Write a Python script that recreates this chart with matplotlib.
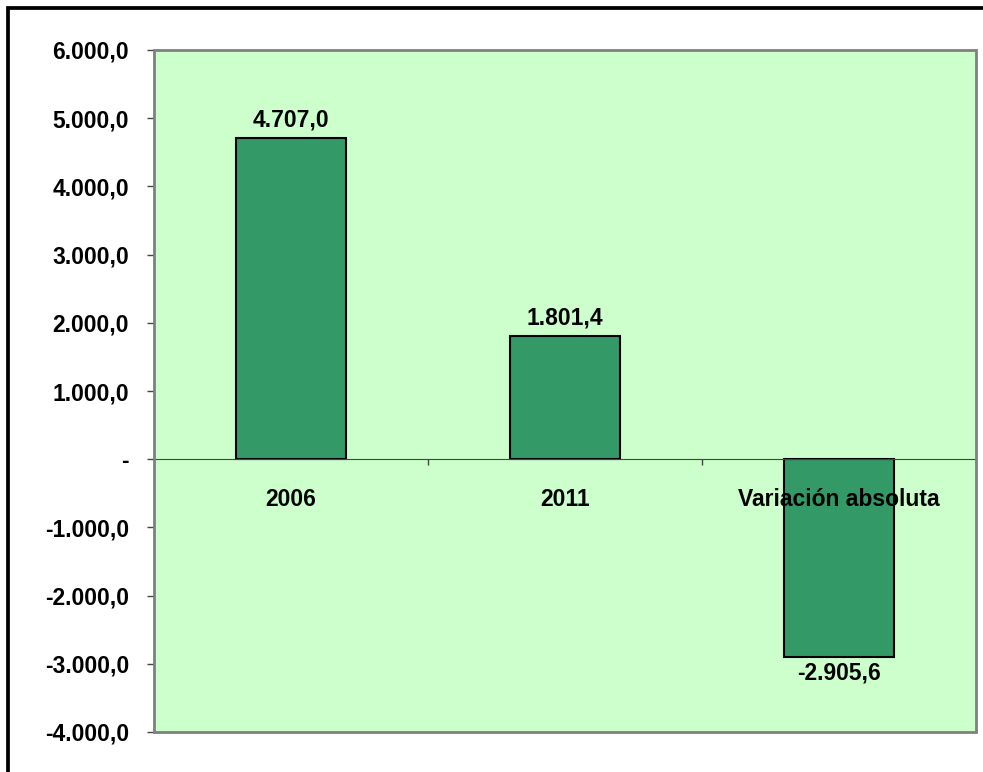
import matplotlib.pyplot as plt
from matplotlib.patches import Rectangle

# Datos
categorias = ["2006", "2011", "Variación absoluta"]
valores = [4707.0, 1801.4, -2905.6]
etiquetas_valores = ["4.707,0", "1.801,4", "-2.905,6"]
ticks_y = [-4000, -3000, -2000, -1000, 0, 1000, 2000, 3000, 4000, 5000, 6000]
etiquetas_y = ["-4.000,0", "-3.000,0", "-2.000,0", "-1.000,0", "-",
               "1.000,0", "2.000,0", "3.000,0", "4.000,0", "5.000,0", "6.000,0"]

plt.rcParams['font.family'] = ['Liberation Sans', 'DejaVu Sans']
plt.rcParams['font.weight'] = 'bold'
fs = 16.5

fig = plt.figure(figsize=(9.83, 7.72), dpi=100)
ax = fig.add_axes([154 / 983, 1 - 732 / 772, 822 / 983, 682 / 772])
ax.set_facecolor("#CCFFCC")

x = range(len(categorias))
ax.bar(x, valores, width=0.4, color="#339966", edgecolor="black", linewidth=1.5, zorder=3)

for i, v in enumerate(valores):
    if v >= 0:
        ax.annotate(etiquetas_valores[i], (i, v), xytext=(0, 5), textcoords="offset points",
                    ha="center", va="bottom", fontsize=fs, fontweight="bold", zorder=6)
    else:
        ax.annotate(etiquetas_valores[i], (i, v), xytext=(0, -3), textcoords="offset points",
                    ha="center", va="top", fontsize=fs, fontweight="bold", zorder=6)

ax.set_xlim(-0.5, 2.5)
ax.set_ylim(-4000, 6000)

# eje y
ax.set_yticks(ticks_y)
ax.set_yticklabels(etiquetas_y, fontsize=fs, fontweight="bold")
ax.tick_params(axis="y", direction="out", length=5, width=1, color="#444444", pad=13)

# eje x en el cero
ax.spines["bottom"].set_position(("data", 0))
ax.spines["bottom"].set_color("#444444")
ax.spines["left"].set_color("#444444")
ax.spines["top"].set_visible(False)
ax.spines["right"].set_visible(False)
ax.xaxis.set_zorder(5)
ax.spines["bottom"].set_zorder(5)
ax.set_xticks(list(x))
ax.set_xticklabels(categorias, fontsize=fs, fontweight="bold")
ax.tick_params(axis="x", which="major", length=0, pad=21)
ax.set_xticks([0.5, 1.5, 2.5], minor=True)
ax.tick_params(axis="x", which="minor", direction="out", length=4, width=1, color="#444444")

# marco del area de trazado
ax.add_patch(Rectangle((0, 0), 1, 1, transform=ax.transAxes, fill=False,
                       edgecolor="#808080", linewidth=2, clip_on=False, zorder=7))

# marco exterior
fig.patches.append(Rectangle((8 / 983, -0.1), 1.2, (772 - 8) / 772 + 0.1,
                             transform=fig.transFigure, fill=False,
                             edgecolor="black", linewidth=2.7))

fig.savefig("out.png", dpi=100)
